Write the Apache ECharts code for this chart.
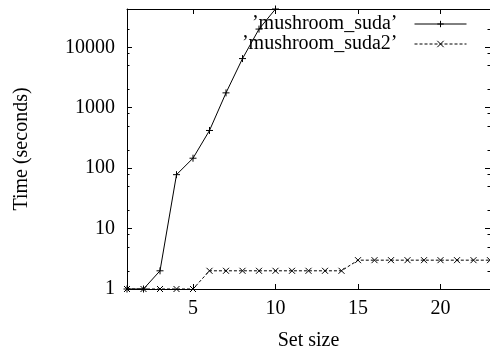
<!DOCTYPE html>
<html>
<head>
<meta charset="utf-8">
<script src="https://cdn.jsdelivr.net/npm/echarts@6/dist/echarts.min.js"></script>
<style>
  html, body { margin: 0; padding: 0; background: #fff; }
  #chart { width: 490px; height: 356px; }
</style>
</head>
<body>
<div id="chart"></div>
<script>
// Set sizes on the x axis
var setSizes = [1, 2, 3, 4, 5, 6, 7, 8, 9, 10, 11, 12, 13, 14, 15, 16, 17, 18, 19, 20, 21, 22, 23];
// Running times (seconds) for each solver
var sudaTimes = [1, 1, 2, 78, 146, 420, 1760, 6500, 20000, 43000];
var suda2Times = [1, 1, 1, 1, 1, 2, 2, 2, 2, 2, 2, 2, 2, 2, 3, 3, 3, 3, 3, 3, 3, 3, 3];
var seriesNames = ['\u2019mushroom_suda\u2019', '\u2019mushroom_suda2\u2019'];
// Tick positions
var xTicks = [5, 10, 15, 20];
var yMajorTicks = [1, 10, 100, 1000, 10000];
var yMinorTicks = [2, 5, 8, 20, 50, 80, 200, 500, 800, 2000, 5000, 8000, 20000];
var yMax = 43000;

var FONT = '"Liberation Serif", "DejaVu Serif", serif';
var black = '#000';

function pairs(ys) {
  return ys.map(function (y, i) { return [setSizes[i], y]; });
}

var plusSymbol = 'path://M5,0L5,10M0,5L10,5';
var crossSymbol = 'path://M0,0L10,10M0,10L10,0';

function xAxisDef(pos, showLabels) {
  return {
    type: 'value', position: pos, min: 1, max: 23,
    axisLine: { show: true, onZero: false, lineStyle: { color: black, width: 1 } },
    axisTick: { show: true, inside: true, length: 5, customValues: xTicks, lineStyle: { color: black } },
    axisLabel: { show: showLabels, customValues: xTicks, margin: 10, color: black, fontFamily: FONT, fontSize: 20 },
    splitLine: { show: false },
    name: showLabels ? 'Set size' : '',
    nameLocation: 'middle', nameGap: 42,
    nameTextStyle: { color: black, fontFamily: FONT, fontSize: 20 }
  };
}

function yAxisDef(pos, ticks, len, showLabels, showLine) {
  return {
    type: 'log', logBase: 10, position: pos, min: 1, max: yMax,
    axisLine: { show: showLine, onZero: false, lineStyle: { color: black, width: 1 } },
    axisTick: { show: true, inside: true, length: len, customValues: ticks, lineStyle: { color: black } },
    axisLabel: {
      show: showLabels, customValues: ticks, margin: 12, color: black, fontFamily: FONT, fontSize: 20,
      formatter: function (v) { return String(Math.round(v)); }
    },
    splitLine: { show: false },
    minorTick: { show: false },
    name: showLabels ? 'Time (seconds)' : '',
    nameLocation: 'middle', nameGap: 95, nameRotate: 90,
    nameTextStyle: { color: black, fontFamily: FONT, fontSize: 20 }
  };
}

var chart = echarts.init(document.getElementById('chart'), null, { renderer: 'canvas' });
chart.setOption({
  animation: false,
  backgroundColor: '#fff',
  grid: { left: 127, top: 9, right: -2, bottom: 63, containLabel: false },
  xAxis: [xAxisDef('bottom', true), xAxisDef('top', false)],
  yAxis: [
    yAxisDef('left', yMajorTicks, 5, true, true),
    yAxisDef('left', yMinorTicks, 2.5, false, false),
    yAxisDef('right', yMajorTicks, 5, false, true),
    yAxisDef('right', yMinorTicks, 2.5, false, false)
  ],
  legend: {
    orient: 'vertical', right: 23, top: 14, align: 'right', padding: 0,
    itemWidth: 52, itemHeight: 8, itemGap: 0,
    lineStyle: { width: 1 },
    itemStyle: { color: 'transparent', borderColor: black, borderWidth: 1 },
    textStyle: { color: black, fontFamily: FONT, fontSize: 20, lineHeight: 20, padding: [0, 12, 0, 0] },
    data: seriesNames
  },
  series: [
    {
      name: seriesNames[0], type: 'line', xAxisIndex: 0, yAxisIndex: 0,
      data: pairs(sudaTimes),
      symbol: plusSymbol, symbolSize: 7,
      itemStyle: { color: 'transparent', borderColor: black, borderWidth: 1 },
      lineStyle: { color: black, width: 1, type: 'solid' },
      clip: true
    },
    {
      name: seriesNames[1], type: 'line', xAxisIndex: 0, yAxisIndex: 0,
      data: pairs(suda2Times),
      symbol: crossSymbol, symbolSize: 6,
      itemStyle: { color: 'transparent', borderColor: black, borderWidth: 1 },
      lineStyle: { color: black, width: 1, type: [3, 2] },
      clip: true
    }
  ]
});
</script>
</body>
</html>
